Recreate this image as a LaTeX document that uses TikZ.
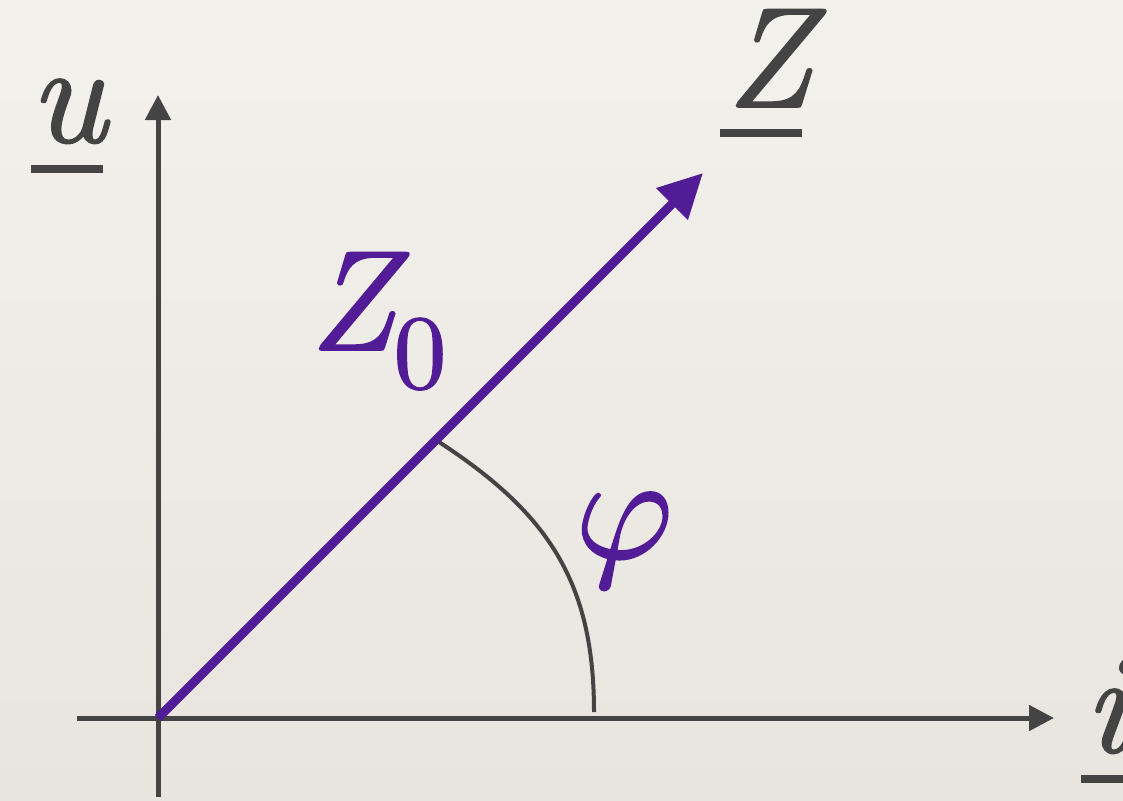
\documentclass[tikz,border=0pt]{standalone}
\usepackage{fontspec}
\newfontfamily\labfont{lmroman10-italic.otf}[FakeBold=1.2]
\newfontfamily\subfont{lmroman10-regular.otf}[FakeBold=1.2]
\newfontfamily\phifont{latinmodern-math.otf}[FakeBold=1.2]
\usetikzlibrary{arrows.meta}
\definecolor{axisgray}{HTML}{444444}
\definecolor{vecpurple}{HTML}{521C96}
\definecolor{papertop}{HTML}{F3F1EC}
\definecolor{paperbot}{HTML}{E8E5DF}
\begin{document}
\begin{tikzpicture}[x=0.75pt,y=-0.75pt,
  axisline/.style={draw=axisgray,line width=3.75pt,-{Triangle[length=18.75pt,width=18.75pt]}},
  vecline/.style={draw=vecpurple,line width=6.75pt,-{Triangle[length=33pt,width=32pt]}},
  arcline/.style={draw=axisgray,line width=3pt},
  uline/.style={draw=axisgray,line width=6pt},
  lab/.style={inner sep=0pt,font=\labfont\fontsize{107}{120}\selectfont,text=axisgray},
  plab/.style={inner sep=0pt,font=\labfont\fontsize{107}{120}\selectfont,text=vecpurple},
  sublab/.style={inner sep=0pt,font=\subfont\fontsize{79}{90}\selectfont,text=vecpurple},
  philabstyle/.style={inner sep=0pt,font=\phifont\fontsize{112}{120}\selectfont,text=vecpurple}]
\useasboundingbox (0,0) rectangle (1123,800);
\shade[top color=papertop,bottom color=paperbot] (0,0) rectangle (1123,800);
% coordinates
\coordinate (O) at (158,718);
\coordinate (ybot) at (158,797);
\coordinate (ytop) at (158,95);
\coordinate (xleft) at (77,718);
\coordinate (xright) at (1054,718);
\coordinate (Ztip) at (703,173);
\coordinate (arcA) at (439,442);
\coordinate (arcB) at (594,712);
% axes
\draw[axisline] (ybot) -- (ytop);
\draw[axisline] (xleft) -- (xright);
% angle arc
\draw[arcline] (arcA) .. controls (548,513) and (594,582) .. (arcB);
% vector
\draw[vecline] (O) -- (Ztip);
% labels
\node[lab,anchor=base] (ulab) at (68,142) {u};
\draw[uline] (31,169) -- (103,169);
\node[lab,anchor=base] (Zlab) at (769,107) {Z};
\draw[uline] (720,133) -- (802,133);
\node[lab,anchor=base west] (ilab) at (1084,752) {i};
\draw[uline] (1081,779) -- (1123,779);
\node[plab,anchor=base] (Z0lab) at (352,350) {Z};
\node[sublab,anchor=base] (Z0sub) at (420,388) {0};
\node[philabstyle,anchor=base] (philab) at (624,558) {𝜑};
\end{tikzpicture}
\end{document}
